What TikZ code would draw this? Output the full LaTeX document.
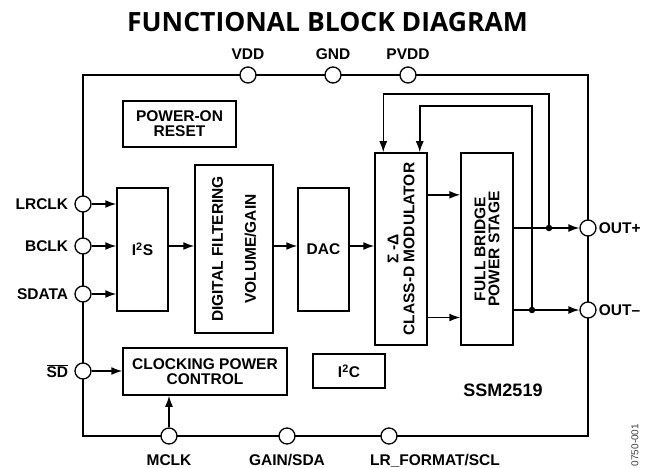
\documentclass[tikz,border=0pt]{standalone}
\usepackage{fontspec}
\setmainfont{Liberation Sans}
\newfontfamily\titlefont{Open Sans}
\usetikzlibrary{arrows.meta,positioning,calc}

\begin{document}
\begin{tikzpicture}[x=1pt, y=-1pt,
  block/.style={draw, line width=1.5pt, inner sep=0pt},
  pin/.style={draw, circle, fill=white, line width=1.3pt, minimum size=16pt, inner sep=0pt},
  pinlabel/.style={font=\fontsize{15.5}{18}\selectfont\bfseries, inner sep=0pt},
  boxtext/.style={font=\fontsize{15.5}{15}\selectfont\bfseries, align=center, inner sep=0pt},
  sig/.style={line width=1.5pt, -{Latex[length=11pt,width=8pt]}},
  dot/.style={circle, fill, inner sep=0pt, minimum size=6.5pt}]

  \useasboundingbox (0,0) rectangle (648,468);

  \node[font=\titlefont\fontsize{26.5}{30}\selectfont\bfseries] (title) at (327.5,22) {FUNCTIONAL BLOCK DIAGRAM};

  % chip outline
  \draw[line width=2.2pt] (83,75) rectangle (588,436);

  % blocks
  \node[block, boxtext, minimum width=113pt, minimum height=46pt] (por) at (179.5,124) {POWER-ON\\RESET};
  \node[block, boxtext, minimum width=51pt, minimum height=123pt] (i2s) at (142.5,249.5) {I\textsuperscript{2}S};
  \node[block, minimum width=78pt, minimum height=168pt] (df) at (234,249) {};
  \node[block, boxtext, minimum width=51pt, minimum height=123pt] (dac) at (323.5,249.5) {DAC};
  \node[block, minimum width=52pt, minimum height=192pt] (mod) at (401,249) {};
  \node[block, minimum width=52pt, minimum height=192pt] (ps) at (487,249) {};
  \node[block, boxtext, minimum width=164pt, minimum height=47pt] (clk) at (205,371.5) {CLOCKING POWER\\CONTROL};
  \node[block, boxtext, minimum width=72pt, minimum height=34pt] (i2c) at (349,371) {I\textsuperscript{2}C};

  \node[boxtext, rotate=90, font=\fontsize{15.5}{33}\selectfont\bfseries] (dftext) at (df.center) {DIGITAL FILTERING\\VOLUME/GAIN};
  \node[boxtext, rotate=90, font=\fontsize{15.5}{16}\selectfont\bfseries] (modtext) at (mod.center) {Σ -Δ\\CLASS-D MODULATOR};
  \node[boxtext, rotate=90, font=\fontsize{15.5}{14}\selectfont\bfseries] (pstext) at (ps.center) {FULL BRIDGE\\POWER STAGE};

  \node[font=\fontsize{18}{20}\selectfont\bfseries] (chipname) at (503,390) {SSM2519};
  \node[rotate=90, font=\fontsize{10}{12}\selectfont, text=black!75] (code) at (635,445) {0750-001};

  % pins
  \node[pin] (vdd) at (248,75) {};
  \node[pin] (gnd) at (333,75) {};
  \node[pin] (pvdd) at (408,75) {};
  \node[pin] (lrclk) at (83,204) {};
  \node[pin] (bclk) at (83,246) {};
  \node[pin] (sdata) at (83,294) {};
  \node[pin] (sd) at (83,371) {};
  \node[pin] (mclk) at (169,436) {};
  \node[pin] (gain) at (287,436) {};
  \node[pin] (lrfmt) at (389,436) {};
  \node[pin] (outp) at (588,228) {};
  \node[pin] (outm) at (588,310) {};

  \node[pinlabel, anchor=base] (vddlabel) at ([yshift=7pt]vdd.north) {VDD};
  \node[pinlabel, anchor=base] (gndlabel) at ([yshift=7pt]gnd.north) {GND};
  \node[pinlabel, anchor=base] (pvddlabel) at ([yshift=7pt]pvdd.north) {PVDD};
  \node[pinlabel, left=6pt of lrclk] (lrclklabel) {LRCLK};
  \node[pinlabel, left=6pt of bclk] (bclklabel) {BCLK};
  \node[pinlabel, left=6pt of sdata] (sdatalabel) {SDATA};
  \node[pinlabel, left=6pt of sd] (sdlabel) {$\overline{\hbox{SD}}$};
  \node[pinlabel, anchor=base] (mclklabel) at ([yshift=-21pt]mclk.south) {MCLK};
  \node[pinlabel, anchor=base] (gainlabel) at ([yshift=-21pt]gain.south) {GAIN/SDA};
  \node[pinlabel, anchor=base] (lrfmtlabel) at ([xshift=46pt, yshift=-21pt]lrfmt.south) {LR\_FORMAT/SCL};
  \node[pinlabel, right=2pt of outp] (outplabel) {OUT+};
  \node[pinlabel, right=2pt of outm] (outmlabel) {OUT--};

  % signal path
  \draw[sig] (lrclk.east) -- (lrclk.east -| i2s.west);
  \draw[sig] (bclk.east) -- (bclk.east -| i2s.west);
  \draw[sig] (sdata.east) -- (sdata.east -| i2s.west);
  \draw[sig] (i2s.east |- bclk) -- (df.west |- bclk);
  \draw[sig] (df.east |- bclk) -- (dac.west |- bclk);
  \draw[sig] (dac.east |- bclk) -- (mod.west |- bclk);
  \draw[sig] ($(mod.north east)!0.22!(mod.south east)$) -- ($(ps.north west)!0.22!(ps.south west)$);
  \draw[sig] ($(mod.north east)!0.854!(mod.south east)$) -- ($(ps.north west)!0.854!(ps.south west)$);
  \draw[sig] (ps.east |- outp) -- (outp.west);
  \draw[sig] (ps.east |- outm) -- (outm.west);
  \draw[sig] (sd.east) -- (sd.east -| clk.west);
  \draw[sig] (mclk.north) -- (clk.south -| mclk.north);

  % feedback
  \node[dot] (dotp) at (549,228) {};
  \node[dot] (dotm) at (532,310) {};
  \draw[sig] (dotp.center) -- ++(0,-134) -| ([xshift=9pt]mod.north west);
  \draw[sig] (dotm.center) -- ++(0,-204) -| ([xshift=-8pt]mod.north east);
\end{tikzpicture}
\end{document}
